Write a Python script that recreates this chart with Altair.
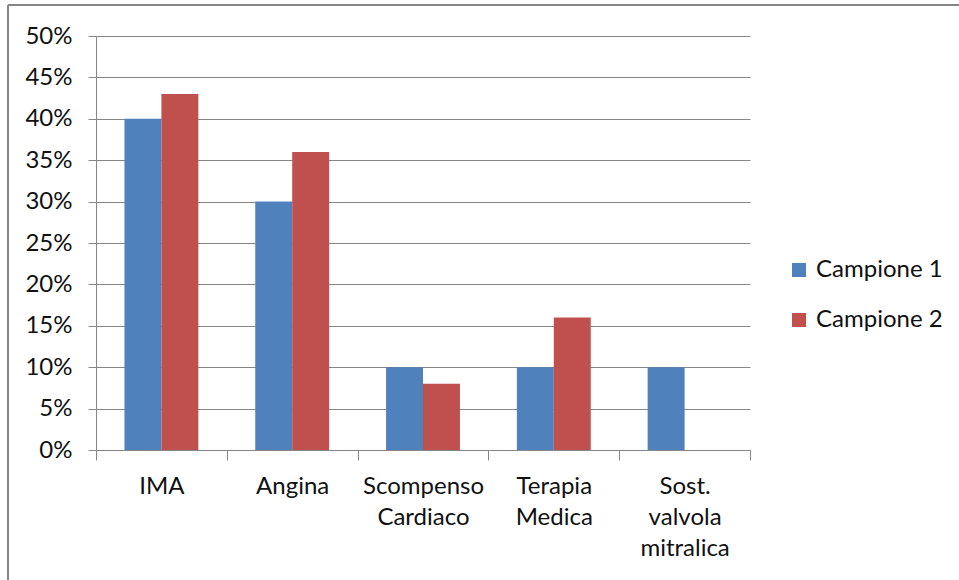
import altair as alt
import pandas as pd

categories = ["IMA", "Angina", "Scompenso Cardiaco", "Terapia Medica", "Sost. valvola mitralica"]
series = ["Campione 1", "Campione 2"]
campione_1 = [0.40, 0.30, 0.10, 0.10, 0.10]
campione_2 = [0.43, 0.36, 0.08, 0.16, 0.0]
y_ticks = [0, 0.05, 0.10, 0.15, 0.20, 0.25, 0.30, 0.35, 0.40, 0.45, 0.50]
colors = ["#4F81BD", "#C0504D"]

rows = []
for cat, v1, v2 in zip(categories, campione_1, campione_2):
    rows.append({"categoria": cat, "serie": series[0], "valore": v1})
    rows.append({"categoria": cat, "serie": series[1], "valore": v2})
df = pd.DataFrame(rows)

GRID = "#868686"
FONT = "Lato"
TXT = "#111111"
FS = 24

bars = alt.Chart(df).mark_bar().encode(
    x=alt.X(
        "categoria:N",
        sort=categories,
        scale=alt.Scale(paddingInner=0, paddingOuter=0),
        axis=alt.Axis(
            title=None,
            labelAngle=0,
            labelExpr="split(datum.label, ' ')",
            tickBand="extent",
            tickSize=10,
            tickColor=GRID,
            domainColor=GRID,
            labelFont=FONT,
            labelFontSize=FS,
            labelColor=TXT,
            labelPadding=14,
            labelLineHeight=31,
            grid=False,
        ),
    ),
    xOffset=alt.XOffset(
        "serie:N", sort=series, scale=alt.Scale(paddingInner=0, paddingOuter=0.77)
    ),
    y=alt.Y(
        "valore:Q",
        scale=alt.Scale(domain=[0, 0.5], nice=False),
        axis=alt.Axis(
            values=y_ticks,
            format=".0%",
            title=None,
            tickSize=8,
            tickColor=GRID,
            domainColor=GRID,
            gridColor=GRID,
            grid=True,
            labelFont=FONT,
            labelFontSize=FS,
            labelColor=TXT,
            labelPadding=16,
        ),
    ),
    color=alt.Color(
        "serie:N",
        scale=alt.Scale(domain=series, range=colors),
        legend=alt.Legend(
            title=None,
            orient="none",
            legendX=691,
            legendY=222,
            symbolType="square",
            symbolSize=196,
            symbolStrokeWidth=0,
            labelFont=FONT,
            labelFontSize=FS,
            labelColor=TXT,
            labelOffset=5,
            rowPadding=26,
        ),
    ),
)

frame = alt.Data(values=[{}])
left_edge = alt.Chart(frame).mark_rule(color=GRID, strokeWidth=2).encode(
    x=alt.value(-88), y=alt.value(-31), y2=alt.value(600)
)
top_edge = alt.Chart(frame).mark_rule(color=GRID, strokeWidth=2).encode(
    y=alt.value(-31), x=alt.value(-88), x2=alt.value(900)
)

chart = (
    alt.layer(bars, left_edge, top_edge)
    .properties(
        width=654,
        height=414,
        padding={"left": 96, "top": 36, "right": 209, "bottom": 130},
        autosize=alt.AutoSizeParams(type="none"),
        background="white",
    )
    .configure_view(stroke=None)
)

chart.save("out.html", embed_options={"renderer": "svg", "actions": False})
